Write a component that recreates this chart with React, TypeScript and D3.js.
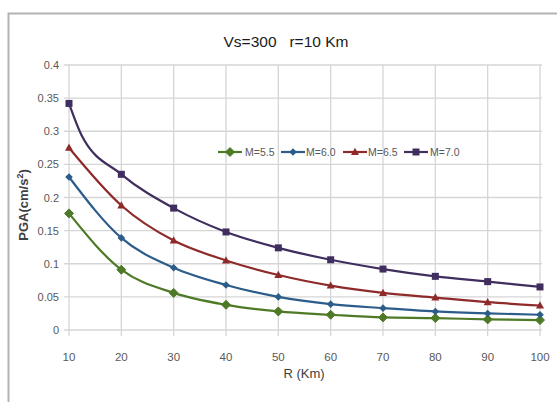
import React from "react";
import * as d3 from "d3";

const R = [10, 20, 30, 40, 50, 60, 70, 80, 90, 100];
const M55 = [0.176, 0.091, 0.056, 0.038, 0.028, 0.023, 0.019, 0.018, 0.016, 0.015];
const M60 = [0.231, 0.139, 0.094, 0.068, 0.05, 0.039, 0.033, 0.028, 0.025, 0.023];
const M65 = [0.275, 0.188, 0.135, 0.105, 0.083, 0.067, 0.056, 0.049, 0.042, 0.037];
const M70 = [0.342, 0.235, 0.184, 0.148, 0.124, 0.106, 0.092, 0.081, 0.073, 0.065];
// unmarked intermediate point on the M=7.0 curve
const M70_EXTRA_R = 12.4;
const M70_EXTRA_V = 0.294;

const seriesNames = ["M=5.5", "M=6.0", "M=6.5", "M=7.0"];
const xTicks = [10, 20, 30, 40, 50, 60, 70, 80, 90, 100];
const yTicks = [0, 0.05, 0.1, 0.15, 0.2, 0.25, 0.3, 0.35, 0.4];
const yTickLabels = ["0", "0.05", "0.1", "0.15", "0.2", "0.25", "0.3", "0.35", "0.4"];

const colors = ["#4e7a27", "#2c5c8a", "#8e2a2a", "#3f2e5e"];
const markers = ["diamond", "smalldiamond", "triangle", "square"];

const W = 557;
const H = 402;
const left = 69;
const right = 540;
const top = 65;
const bottom = 330;

const FONT = "'Liberation Sans Narrow', 'Liberation Sans', 'Open Sans', sans-serif";

function Marker({ kind, x, y, color }: { kind: string; x: number; y: number; color: string }) {
  if (kind === "square") return <rect x={x - 3.5} y={y - 3.5} width={7} height={7} fill={color} />;
  if (kind === "triangle")
    return <path d={`M${x},${y - 4.2}L${x + 4},${y + 3}L${x - 4},${y + 3}Z`} fill={color} />;
  if (kind === "diamond")
    return <path d={`M${x},${y - 4.5}L${x + 4.5},${y}L${x},${y + 4.5}L${x - 4.5},${y}Z`} fill={color} stroke={color} strokeWidth={1} strokeLinejoin="round" />;
  return <path d={`M${x},${y - 3.8}L${x + 3.8},${y}L${x},${y + 3.8}L${x - 3.8},${y}Z`} fill={color} />;
}

export default function App() {
  const x = d3.scaleLinear().domain([10, 100]).range([left, right]);
  const y = d3.scaleLinear().domain([0, 0.4]).range([bottom, top]);
  const allSeries = [M55, M60, M65, M70];

  const line = d3
    .line<[number, number]>()
    .x((d) => x(d[0]))
    .y((d) => y(d[1]))
    .curve(d3.curveMonotoneX);

  const seriesPoints = allSeries.map((vals, i) => {
    const pts: [number, number][] = R.map((r, j) => [r, vals[j]]);
    if (i === 3) pts.splice(1, 0, [M70_EXTRA_R, M70_EXTRA_V]);
    return pts;
  });

  const legendItems = [
    { lx: 218, tx: 245 },
    { lx: 281, tx: 306 },
    { lx: 343, tx: 368 },
    { lx: 404, tx: 430 },
  ];
  const legendY = 152;

  return (
    <svg width={W} height={H} style={{ position: "absolute", left: 0, top: 0, background: "#fff" }}>
      <rect x={0} y={0} width={W} height={H} fill="#fff" />
      <path d={`M8.5,${H}L8.5,13.5L${W},13.5`} fill="none" stroke="#b3b3b3" strokeWidth={2} />

      <text x={286} y={47} textAnchor="middle" fontFamily={FONT} fontSize={15.5} fill="#1a1a1a">
        Vs=300{"\u00a0\u00a0\u00a0"}r=10 Km
      </text>

      {/* gridlines */}
      {yTicks.map((t) => (
        <line key={"gy" + t} x1={left - 5} x2={right + 2} y1={y(t)} y2={y(t)} stroke="#d6d6d6" strokeWidth={1.3} />
      ))}
      {xTicks.map((t) => (
        <line key={"gx" + t} x1={x(t)} x2={x(t)} y1={top} y2={bottom + 6} stroke="#d6d6d6" strokeWidth={1.3} />
      ))}

      {/* y tick labels */}
      {yTicks.map((t, i) => (
        <text key={"yl" + t} x={59} y={y(t) + 4} textAnchor="end" fontFamily={FONT} fontSize={11} fill="#595959">
          {yTickLabels[i]}
        </text>
      ))}
      {/* x tick labels */}
      {xTicks.map((t) => (
        <text key={"xl" + t} x={x(t)} y={361} textAnchor="middle" fontFamily={FONT} fontSize={11.5} fill="#595959">
          {t}
        </text>
      ))}

      <text x={304} y={378} textAnchor="middle" fontFamily={FONT} fontSize={13} fill="#404040">
        R (Km)
      </text>
      <text
        transform={`translate(28,205) rotate(-90)`}
        textAnchor="middle"
        fontFamily={FONT}
        fontSize={13}
        fontWeight="bold"
        fill="#404040"
      >
        PGA(cm/s<tspan baselineShift="super" fontSize={9}>2</tspan>)
      </text>

      {/* series */}
      {seriesPoints.map((pts, i) => (
        <path key={"s" + i} d={line(pts) || ""} fill="none" stroke={colors[i]} strokeWidth={2.2} />
      ))}
      {allSeries.map((vals, i) =>
        R.map((r, j) => <Marker key={`m${i}-${j}`} kind={markers[i]} x={x(r)} y={y(vals[j])} color={colors[i]} />)
      )}

      {/* legend */}
      {legendItems.map((it, i) => (
        <g key={"lg" + i}>
          <line x1={it.lx} x2={it.lx + 24} y1={legendY} y2={legendY} stroke={colors[i]} strokeWidth={2.2} />
          <Marker kind={markers[i]} x={it.lx + 12} y={legendY} color={colors[i]} />
          <text x={it.tx} y={legendY + 4} fontFamily={FONT} fontSize={10.5} fill="#595959">
            {seriesNames[i]}
          </text>
        </g>
      ))}
    </svg>
  );
}
